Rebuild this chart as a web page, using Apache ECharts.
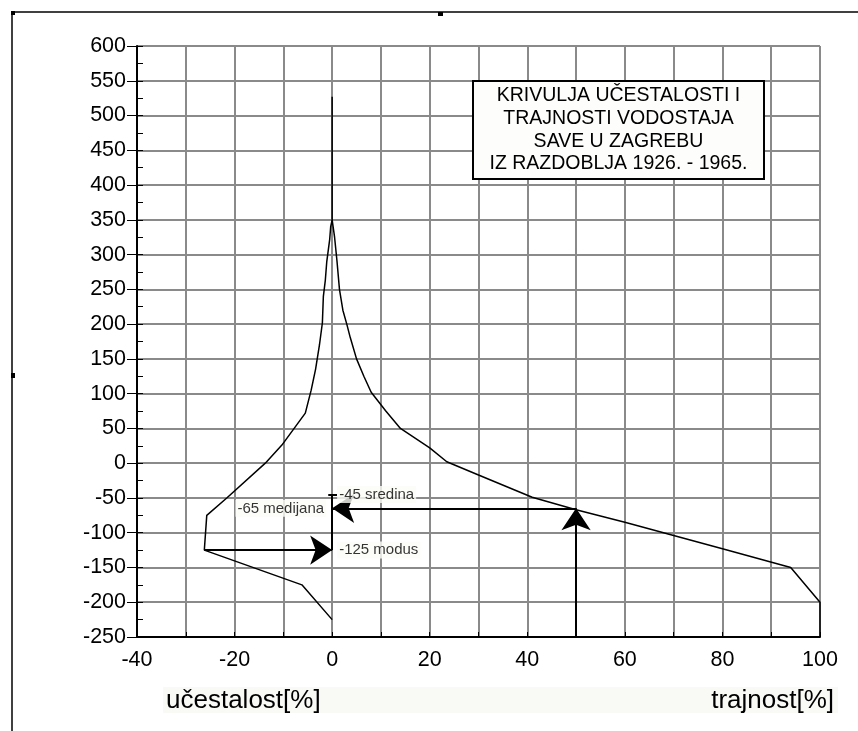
<!DOCTYPE html>
<html>
<head>
<meta charset="utf-8">
<script src="https://cdn.jsdelivr.net/npm/echarts@6/dist/echarts.min.js"></script>
<style>
  html, body { margin: 0; padding: 0; background: #fff; }
  #chart { width: 858px; height: 731px; }
</style>
</head>
<body>
<div id="chart"></div>
<script>
// krivulja učestalosti (lijevo, negativni postotci)
var freqPercent = [0, 0, -0.3, -0.5, -1.1, -1.4, -1.8, -2.0, -2.6, -3.4, -4.3, -5.5, -10.3, -13.7, -21.6, -25.7, -26.2, -6.2, 0];
var freqLevel   = [527, 350, 340, 322, 290, 263, 240, 202, 170, 135, 105, 72, 26, 0, -50, -75, -125, -175, -225];

// krivulja trajnosti (desno)
var durPercent = [0, 0.5, 1.0, 1.5, 2.2, 3.0, 3.7, 5.0, 6.5, 8.0, 11, 14, 20, 23.5, 30, 41, 50, 60, 70, 80, 94, 100, 100];
var durLevel   = [350, 325, 290, 250, 220, 200, 181, 150, 125, 102, 75, 50, 22, 2, -17, -49, -67, -85, -104, -123, -150, -200, -250];

// karakteristični vodostaji
var statValues = [-45, -65, -125];
var statNames  = ['sredina', 'medijana', 'modus'];
var modePercent = -26.2;
var medianDuration = 50;

var titleLines = ['KRIVULJA UČESTALOSTI I', 'TRAJNOSTI VODOSTAJA', 'SAVE U ZAGREBU', 'IZ RAZDOBLJA 1926. - 1965.'];

function zip(xs, ys) {
    var out = [];
    xs.forEach(function(x, i) { out.push([x, ys[i]]); });
    return out;
}

var font = 'Liberation Sans, Arial, sans-serif';
var myChart = echarts.init(document.getElementById('chart'));

var option = {
    animation: false,
    backgroundColor: '#fff',
    grid: { left: 137, right: 38, top: 46, bottom: 94 },
    xAxis: {
        type: 'value',
        min: -40, max: 100, interval: 10,
        axisLine: { onZero: false, lineStyle: { color: '#000', width: 2 } },
        axisTick: { inside: true, length: 5, lineStyle: { color: '#000' } },
        axisLabel: {
            interval: 1, margin: 12, color: '#000', fontSize: 21.5, fontFamily: font,
            formatter: function(v) { return v % 20 === 0 ? String(v) : ''; }
        },
        splitLine: { show: true, lineStyle: { color: '#8a8a8a', width: 2 } }
    },
    yAxis: [{
        type: 'value',
        min: -250, max: 600, interval: 50,
        axisLine: { show: true, onZero: false, lineStyle: { color: '#000', width: 2 } },
        axisTick: { show: true, length: 10, lineStyle: { color: '#000' } },
        axisLabel: { margin: 11, color: '#000', fontSize: 21.5, fontFamily: font },
        splitLine: { show: true, lineStyle: { color: '#8a8a8a', width: 2 } }
    }, {
        type: 'value',
        position: 'left',
        min: -250, max: 600, interval: 25,
        axisLine: { show: false, onZero: false },
        axisTick: { show: true, inside: true, length: 6, lineStyle: { color: '#000' } },
        axisLabel: { show: false },
        splitLine: { show: false }
    }],
    graphic: [
        // okvir
        { type: 'line', shape: { x1: 12, y1: 12, x2: 858, y2: 12 }, style: { stroke: '#000', lineWidth: 1.5 } },
        { type: 'line', shape: { x1: 12, y1: 12, x2: 12, y2: 731 }, style: { stroke: '#000', lineWidth: 1.5 } },
        { type: 'rect', shape: { x: 11, y: 11, width: 4, height: 4 }, style: { fill: '#000' } },
        { type: 'rect', shape: { x: 438, y: 12, width: 5, height: 4 }, style: { fill: '#000' } },
        { type: 'rect', shape: { x: 11, y: 373, width: 4, height: 5 }, style: { fill: '#000' } },
        // naslov
        { type: 'rect', z: 100, shape: { x: 473, y: 81, width: 291, height: 98 },
          style: { fill: '#fdfdfb', stroke: '#000', lineWidth: 2 } },
        { type: 'text', z: 101, x: 618.5, y: 130,
          style: { text: titleLines.join('\n'), align: 'center', verticalAlign: 'middle',
                   font: '19.5px ' + font, lineHeight: 22.6, fill: '#000' } },
        // nazivi osi
        { type: 'rect', shape: { x: 163, y: 687, width: 675, height: 26 }, style: { fill: '#f9f9f6' } },
        { type: 'text', x: 166, y: 701,
          style: { text: 'učestalost[%]', verticalAlign: 'middle', font: '26px ' + font, fill: '#000' } },
        { type: 'text', x: 834, y: 701,
          style: { text: 'trajnost[%]', align: 'right', verticalAlign: 'middle', font: '26px ' + font, fill: '#000' } }
    ],
    series: [{
        name: 'učestalost',
        type: 'line',
        data: zip(freqPercent, freqLevel),
        symbol: 'none',
        lineStyle: { color: '#000', width: 1.5 },
        z: 5
    }, {
        name: 'trajnost',
        type: 'line',
        data: zip(durPercent, durLevel),
        symbol: 'none',
        lineStyle: { color: '#000', width: 1.5 },
        z: 5
    }, {
        name: 'strelice',
        type: 'lines',
        coordinateSystem: 'cartesian2d',
        symbol: ['none', 'arrow'],
        symbolSize: [18, 22],
        lineStyle: { color: '#000', width: 2, opacity: 1 },
        data: [
            { coords: [[medianDuration, -250], [medianDuration, statValues[1]]] },
            { coords: [[medianDuration, statValues[1]], [0, statValues[1]]] },
            { coords: [[modePercent, statValues[2]], [0, statValues[2]]] }
        ],
        z: 6
    }, {
        name: 'raspon',
        type: 'lines',
        coordinateSystem: 'cartesian2d',
        symbol: 'none',
        lineStyle: { color: '#000', width: 2, opacity: 1 },
        data: [
            { coords: [[0, statValues[0]], [0, statValues[2]]] },
            { coords: [[-0.8, statValues[0]], [1, statValues[0]]] }
        ],
        z: 6
    }, {
        name: 'oznake',
        type: 'scatter',
        symbolSize: 0,
        data: statValues.map(function(v, i) {
            return {
                value: [0, v],
                label: {
                    show: true,
                    position: i === 1 ? 'left' : 'right',
                    distance: i === 1 ? 6 : 5,
                    formatter: v + ' ' + statNames[i],
                    color: '#000',
                    fontSize: 15,
                    fontFamily: font,
                    backgroundColor: '#fbfbf8',
                    padding: [1, 2]
                }
            };
        }),
        z: 7
    }]
};

myChart.setOption(option);
</script>
</body>
</html>
